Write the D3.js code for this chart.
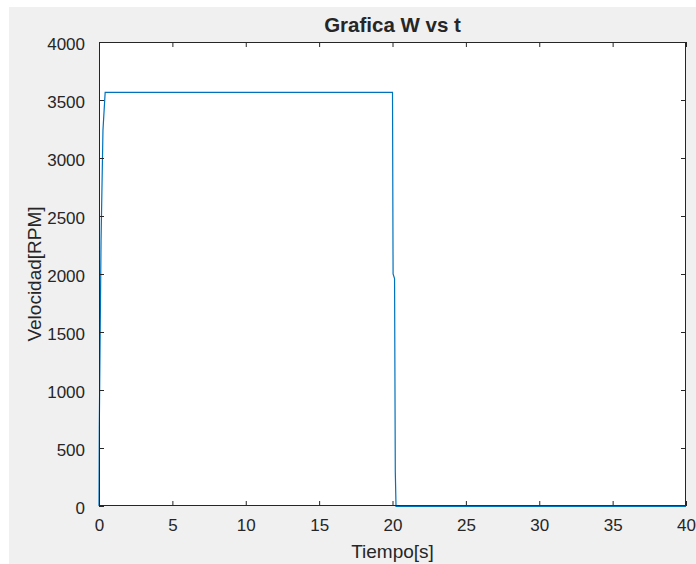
<!DOCTYPE html>
<html>
<head>
<meta charset="utf-8">
<script src="https://cdn.jsdelivr.net/npm/d3@7"></script>
<style>
  html, body { margin: 0; padding: 0; background: #ffffff; }
  svg { display: block; }
  text { font-family: "Liberation Sans", Arial, Helvetica, sans-serif; fill: #262626; }
</style>
</head>
<body>
<svg id="fig" width="696" height="564"></svg>
<script>
// Motor speed response: time (s) and speed (RPM)
const tiempo    = [0, 0.02, 0.14, 0.27, 0.42, 20.0, 20.04, 20.14, 20.19, 20.24, 40];
const velocidad = [0, 670, 2290, 3240, 3565, 3565, 2000, 1960, 300, -3, -3];

const xTicks = [0, 5, 10, 15, 20, 25, 30, 35, 40];
const yTicks = [0, 500, 1000, 1500, 2000, 2500, 3000, 3500, 4000];

const titulo = "Grafica W vs t";
const xLabel = "Tiempo[s]";
const yLabel = "Velocidad[RPM]";

const svg = d3.select("#fig");

// grey figure canvas
svg.append("rect").attr("x", 9).attr("y", 7).attr("width", 696 - 9).attr("height", 564 - 7)
  .attr("fill", "#f0f0f0");

const plot = { left: 99, top: 42, right: 686, bottom: 506 };

const x = d3.scaleLinear().domain([0, 40]).range([plot.left, plot.right]);
const y = d3.scaleLinear().domain([0, 4000]).range([plot.bottom, plot.top]);

// white axes area
svg.append("rect")
  .attr("x", plot.left).attr("y", plot.top)
  .attr("width", plot.right - plot.left).attr("height", plot.bottom - plot.top)
  .attr("fill", "#ffffff");

// data line
const line = d3.line().x((d, i) => x(tiempo[i])).y(d => y(d));
svg.append("path")
  .datum(velocidad)
  .attr("d", line)
  .attr("fill", "none")
  .attr("stroke", "#0072bd")
  .attr("stroke-width", 1.2);

const axisColor = "#262626";
const tickLen = 5;

function styleAxis(g, hideText) {
  g.select(".domain").remove();
  g.selectAll(".tick line").attr("stroke", axisColor).attr("stroke-width", 1);
  if (hideText) g.selectAll(".tick text").remove();
  else g.selectAll(".tick text").attr("font-size", 17).attr("fill", axisColor)
        .attr("font-family", '"Liberation Sans", Arial, sans-serif');
}

// bottom axis (ticks inward)
svg.append("g").attr("transform", `translate(0,${plot.bottom})`)
  .call(d3.axisBottom(x).tickValues(xTicks).tickFormat(d3.format("d"))
        .tickSizeInner(-tickLen).tickSizeOuter(0).tickPadding(13))
  .call(g => styleAxis(g, false))
  .call(g => g.selectAll(".tick text").attr("dy", "0.71em"));

// top axis
svg.append("g").attr("transform", `translate(0,${plot.top})`)
  .call(d3.axisTop(x).tickValues(xTicks).tickSizeInner(-tickLen).tickSizeOuter(0))
  .call(g => styleAxis(g, true));

// left axis
svg.append("g").attr("transform", `translate(${plot.left},0)`)
  .call(d3.axisLeft(y).tickValues(yTicks).tickFormat(d3.format("d"))
        .tickSizeInner(-tickLen).tickSizeOuter(0).tickPadding(14))
  .call(g => styleAxis(g, false))
  .call(g => g.selectAll(".tick text").attr("dy", "0.45em"));

// right axis
svg.append("g").attr("transform", `translate(${plot.right},0)`)
  .call(d3.axisRight(y).tickValues(yTicks).tickSizeInner(-tickLen).tickSizeOuter(0))
  .call(g => styleAxis(g, true));

// axes box
svg.append("rect")
  .attr("x", plot.left + 0.5).attr("y", plot.top + 0.5)
  .attr("width", plot.right - plot.left - 1).attr("height", plot.bottom - plot.top - 1)
  .attr("fill", "none").attr("stroke", axisColor).attr("stroke-width", 1);

// redraw the zero segment over the bottom edge
svg.append("clipPath").attr("id", "bottomClip")
  .append("rect").attr("x", x(20.5)).attr("y", plot.bottom - 1).attr("width", plot.right - x(20.5)).attr("height", 4);
svg.append("path")
  .datum(velocidad)
  .attr("d", line)
  .attr("fill", "none")
  .attr("stroke", "#0072bd")
  .attr("stroke-width", 1.2)
  .attr("clip-path", "url(#bottomClip)");

// title
svg.append("text")
  .attr("x", (plot.left + plot.right) / 2).attr("y", 32)
  .attr("text-anchor", "middle")
  .attr("font-size", 20.5).attr("font-weight", "bold").attr("fill", "#000")
  .text(titulo);

// x label
svg.append("text")
  .attr("x", (plot.left + plot.right) / 2).attr("y", 558)
  .attr("text-anchor", "middle")
  .attr("font-size", 19)
  .text(xLabel);

// y label
svg.append("text")
  .attr("transform", `translate(41,${(plot.top + plot.bottom) / 2}) rotate(-90)`)
  .attr("text-anchor", "middle")
  .attr("font-size", 19)
  .text(yLabel);
</script>
</body>
</html>
